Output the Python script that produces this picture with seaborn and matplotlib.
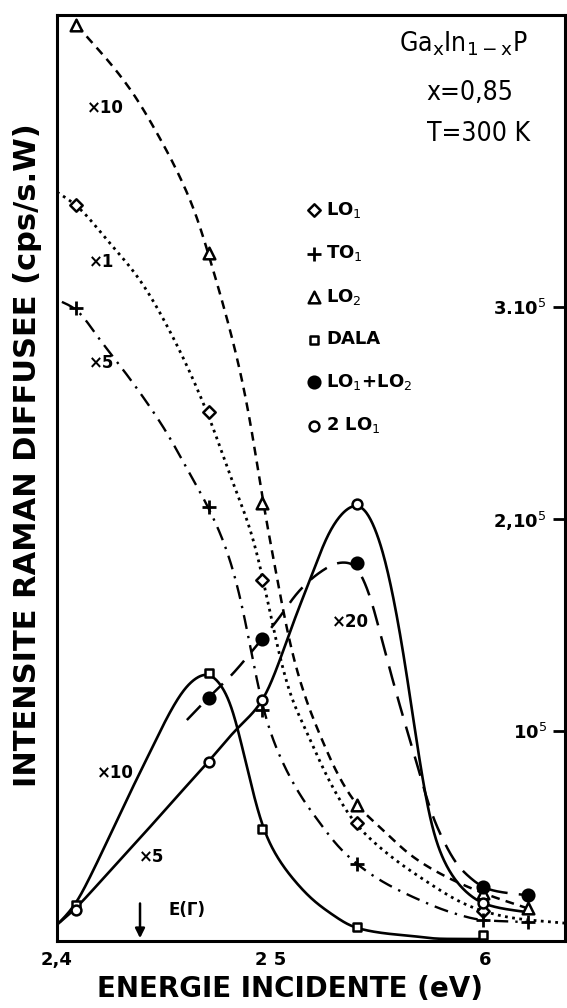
import numpy as np
import matplotlib
matplotlib.use("Agg")
import matplotlib.pyplot as plt
import seaborn as sns

# intensities in units of 1e5 cps/s.W (as drawn, with the x-factors already applied)
e_lo1 = [2.409, 2.471, 2.496, 2.540, 2.599]
i_lo1 = [3.481, 2.505, 1.712, 0.566, 0.151]
e_to1 = [2.409, 2.471, 2.496, 2.540, 2.599, 2.620]
i_to1 = [2.995, 2.057, 1.099, 0.373, 0.108, 0.099]
e_lo2 = [2.409, 2.471, 2.496, 2.540, 2.599, 2.620]
i_lo2 = [4.330, 3.255, 2.075, 0.651, 0.236, 0.165]
e_dala = [2.409, 2.471, 2.496, 2.540, 2.599]
i_dala = [0.179, 1.274, 0.538, 0.075, 0.040]
e_lo12 = [2.471, 2.496, 2.540, 2.599, 2.620]
i_lo12 = [1.156, 1.434, 1.792, 0.264, 0.226]
e_2lo1 = [2.409, 2.471, 2.496, 2.540, 2.599]
i_2lo1 = [0.156, 0.854, 1.146, 2.071, 0.189]

# hand-drawn guide curves
c_lo2_e = [2.4093, 2.4140, 2.4248, 2.4355, 2.4467, 2.4575, 2.4654, 2.4706, 2.4794, 2.4864, 2.4911,
           2.4963, 2.5019, 2.5089, 2.5159, 2.5243, 2.5308, 2.5402, 2.5509, 2.5664, 2.5822, 2.5991, 2.6196]
c_lo2_i = [4.330, 4.274, 4.151, 4.009, 3.821, 3.613, 3.425, 3.255, 2.948, 2.665, 2.420,
           2.075, 1.774, 1.406, 1.160, 0.948, 0.802, 0.651, 0.547, 0.406, 0.311, 0.236, 0.165]
c_lo1_e = [2.4000, 2.4089, 2.4234, 2.4388, 2.4542, 2.4701, 2.4822, 2.4916, 2.4963, 2.5028, 2.5089,
           2.5168, 2.5229, 2.5308, 2.5393, 2.5523, 2.5696, 2.5916, 2.5991, 2.6131, 2.6374]
c_lo1_i = [3.542, 3.481, 3.316, 3.127, 2.858, 2.505, 2.170, 1.915, 1.717, 1.406, 1.170,
           0.995, 0.854, 0.698, 0.566, 0.439, 0.311, 0.179, 0.151, 0.118, 0.094]
c_to1_e = [2.4023, 2.4084, 2.4201, 2.4355, 2.4514, 2.4621, 2.4706, 2.4794, 2.4855, 2.4902, 2.4963,
           2.5028, 2.5136, 2.5229, 2.5308, 2.5402, 2.5509, 2.5664, 2.5850, 2.5991, 2.6196]
c_to1_i = [3.024, 2.995, 2.844, 2.642, 2.406, 2.212, 2.057, 1.854, 1.642, 1.406, 1.100,
           0.910, 0.698, 0.566, 0.462, 0.373, 0.297, 0.217, 0.142, 0.108, 0.099]
c_dala_e = [2.4000, 2.4084, 2.4154, 2.4248, 2.4341, 2.4435, 2.4528, 2.4598, 2.4654, 2.4706, 2.4762, 2.4808,
            2.4869, 2.4916, 2.4963, 2.5028, 2.5136, 2.5196, 2.5276, 2.5388, 2.5523, 2.5664, 2.5790, 2.5991]
c_dala_i = [0.085, 0.179, 0.311, 0.509, 0.708, 0.901, 1.090, 1.203, 1.255, 1.274, 1.226, 1.146,
            0.910, 0.708, 0.538, 0.406, 0.264, 0.203, 0.142, 0.075, 0.047, 0.033, 0.020, 0.019]
c_lo12_e = [2.4607, 2.4706, 2.4808, 2.4958, 2.5042, 2.5121, 2.5243, 2.5322, 2.5393, 2.5430, 2.5472,
            2.5509, 2.5556, 2.5617, 2.5682, 2.5743, 2.5804, 2.5869, 2.5944, 2.5986, 2.6070, 2.6196]
c_lo12_i = [1.052, 1.156, 1.255, 1.434, 1.538, 1.651, 1.759, 1.797, 1.792, 1.722, 1.618,
            1.462, 1.288, 1.066, 0.849, 0.627, 0.486, 0.368, 0.297, 0.264, 0.241, 0.226]
c_2lo1_e = [2.4014, 2.4079, 2.4201, 2.4388, 2.4542, 2.4706, 2.4822, 2.4963, 2.5042, 2.5103, 2.5182,
            2.5276, 2.5346, 2.5397, 2.5439, 2.5477, 2.5523, 2.5556, 2.5589, 2.5617, 2.5664, 2.5710,
            2.5757, 2.5804, 2.5850, 2.5916, 2.5986, 2.6070, 2.6196]
c_2lo1_i = [0.099, 0.156, 0.288, 0.495, 0.670, 0.854, 0.991, 1.146, 1.335, 1.509, 1.712,
            1.948, 2.042, 2.071, 2.052, 1.981, 1.854, 1.712, 1.547, 1.382, 1.066, 0.755,
            0.519, 0.392, 0.311, 0.236, 0.189, 0.165, 0.146]

xticks = [2.4, 2.5, 2.6]
xtick_labels = ["2,4", "2 5", "6"]
yticks = [1, 2, 3]
ytick_labels = ["10$^5$", "2,10$^5$", "3.10$^5$"]
e_gamma = 2.4388


def pen_line(x, y, sigma=0.0028, n=700):
    # monotone cubic through the guide points, then a light gaussian blur
    # so the drawn line looks like the original french-curve stroke
    x = np.asarray(x, float)
    y = np.asarray(y, float)
    h = np.diff(x)
    d = np.diff(y) / h
    m = np.zeros_like(y)
    for k in range(1, len(x) - 1):
        if d[k - 1] * d[k] > 0:
            w1 = 2 * h[k] + h[k - 1]
            w2 = h[k] + 2 * h[k - 1]
            m[k] = (w1 + w2) / (w1 / d[k - 1] + w2 / d[k])
    m[0] = d[0]
    m[-1] = d[-1]
    xs = np.linspace(x[0], x[-1], n)
    i = np.clip(np.searchsorted(x, xs) - 1, 0, len(h) - 1)
    t = (xs - x[i]) / h[i]
    ys = ((2 * t**3 - 3 * t**2 + 1) * y[i] + (t**3 - 2 * t**2 + t) * h[i] * m[i]
          + (-2 * t**3 + 3 * t**2) * y[i + 1] + (t**3 - t**2) * h[i] * m[i + 1])
    dx = xs[1] - xs[0]
    k = int(4 * sigma / dx) + 1
    kern = np.exp(-0.5 * (np.arange(-k, k + 1) * dx / sigma) ** 2)
    kern /= kern.sum()
    left = 2 * ys[0] - ys[k:0:-1]
    right = 2 * ys[-1] - ys[-2:-k - 2:-1]
    ys = np.convolve(np.concatenate([left, ys, right]), kern, mode="valid")
    return xs, ys


sns.set_theme(style="white")
plt.rcParams["font.family"] = ["DejaVu Sans"]
plt.rcParams["text.color"] = "black"
plt.rcParams["axes.labelcolor"] = "black"
plt.rcParams["xtick.color"] = "black"
plt.rcParams["ytick.color"] = "black"

fig = plt.figure(figsize=(5.67, 10.08), dpi=100)
ax = fig.add_axes([0.1005, 0.0665, 0.896, 0.9186])

curves = [
    (c_lo2_e, c_lo2_i, (0, (3.5, 2.5)), 1.8),
    (c_lo1_e, c_lo1_i, (0, (1, 1.6)), 2.0),
    (c_to1_e, c_to1_i, (0, (6, 3, 1, 3)), 1.7),
    (c_dala_e, c_dala_i, "-", 1.9),
    (c_lo12_e, c_lo12_i, (0, (8, 4.5)), 1.8),
    (c_2lo1_e, c_2lo1_i, "-", 1.9),
]
for ce, ci, ls, lw in curves:
    xs, ys = pen_line(ce, ci)
    sns.lineplot(x=xs, y=ys, ax=ax, color="black", linestyle=ls, linewidth=lw,
                 sort=False, estimator=None, zorder=2)

series = [
    (e_lo1, i_lo1, "D", 40, "white", "LO$_1$"),
    (e_to1, i_to1, "+", 90, "black", "TO$_1$"),
    (e_lo2, i_lo2, "^", 70, "white", "LO$_2$"),
    (e_dala, i_dala, "s", 40, "white", "DALA"),
    (e_lo12, i_lo12, "o", 70, "black", "LO$_1$+LO$_2$"),
    (e_2lo1, i_2lo1, "o", 50, "white", "2 LO$_1$"),
]
for e, i, mk, s, fc, lab in series:
    if mk == "+":
        sns.scatterplot(x=e, y=i, ax=ax, marker=mk, s=s, color="black",
                        linewidth=2.0, zorder=4, label=lab)
    else:
        sns.scatterplot(x=e, y=i, ax=ax, marker=mk, s=s, facecolor=fc,
                        edgecolor="black", linewidth=1.8, zorder=4, label=lab)

ax.set_xlim(2.4, 2.6374)
ax.set_ylim(0.01, 4.377)

for sp in ax.spines.values():
    sp.set_visible(True)
    sp.set_color("black")
    sp.set_linewidth(2.2)

ax.set_xticks(xticks)
ax.set_xticklabels(xtick_labels, fontsize=13, fontweight="bold", color="black")
ax.tick_params(axis="x", direction="in", length=11, width=2, pad=7, colors="black")

ax.yaxis.tick_right()
ax.set_yticks(yticks)
ax.set_yticklabels(ytick_labels, fontsize=13, fontweight="bold", color="black")
for lab in ax.get_yticklabels():
    lab.set_horizontalalignment("right")
ax.tick_params(axis="y", direction="in", length=9, width=2, pad=-13, colors="black")

ax.set_xlabel("ENERGIE INCIDENTE (eV)", fontsize=20, fontweight="bold", color="black")
ax.xaxis.set_label_coords(0.459, -0.037)
ax.yaxis.set_label_position("left")
ax.set_ylabel("INTENSITE RAMAN DIFFUSEE (cps/s.W)", fontsize=22, fontweight="bold", color="black")
ax.yaxis.set_label_coords(-0.03, 0.525)

# multiplying factors written next to the curves
notes = [
    (2.4224, 3.939, "×10"),
    (2.4210, 3.212, "×1"),
    (2.4210, 2.736, "×5"),
    (2.5369, 1.514, "×20"),
    (2.4271, 0.802, "×10"),
    (2.4444, 0.406, "×5"),
]
for x, y, t in notes:
    ax.text(x, y, t, fontsize=12, fontweight="bold", ha="center", va="center", color="black")

ax.annotate("", xy=(e_gamma, 0.01), xytext=(e_gamma, 0.20),
            arrowprops=dict(arrowstyle="-|>", color="black", lw=1.8, mutation_scale=14))
ax.text(2.4607, 0.156, "E(Γ)", fontsize=12, fontweight="bold", ha="center", va="center",
        color="black")

ax.text(0.799, 0.969, r"Ga$_\mathrm{x}$In$_\mathrm{1-x}$P", transform=ax.transAxes,
        fontsize=19, fontstretch="condensed", ha="center", va="center", color="black")
ax.text(0.813, 0.916, "x=0,85", transform=ax.transAxes, fontsize=19,
        fontstretch="condensed", ha="center", va="center", color="black")
ax.text(0.829, 0.872, "T=300 K", transform=ax.transAxes, fontsize=19,
        fontstretch="condensed", ha="center", va="center", color="black")

leg = ax.legend(loc="upper left", bbox_to_anchor=(0.47, 0.81), frameon=False,
                handletextpad=0.2, handlelength=1.0, labelspacing=1.3,
                borderpad=0, prop={"weight": "bold", "size": 13})
for t in leg.get_texts():
    t.set_color("black")

fig.savefig("out.png", dpi=100)
